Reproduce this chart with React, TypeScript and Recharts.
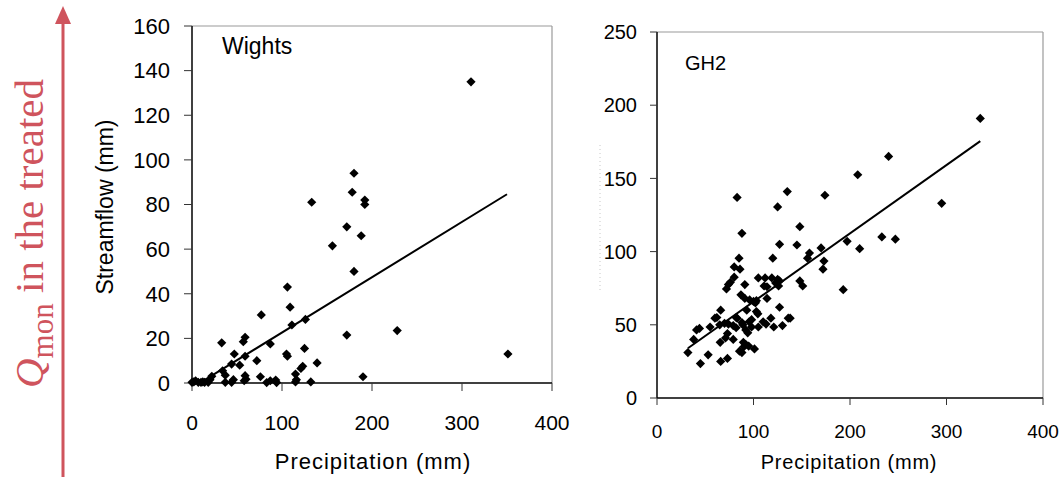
import React from 'react';
import { ScatterChart, Scatter, XAxis, YAxis, ReferenceLine } from 'recharts';

const FONT = '"Liberation Sans", Arial, Helvetica, sans-serif';
const RED = '#cf545d';

// Wights catchment: monthly precipitation (mm) vs streamflow (mm)
const wightsPrecip = [310, 180, 178, 192, 192, 133, 172, 188, 156, 180, 106, 109, 111, 126, 172, 228, 351, 105, 106, 125, 139, 123, 121, 115, 116, 115, 132, 190, 77, 33, 59, 57, 87, 47, 59, 44, 53, 72, 34, 37, 22, 59, 60, 58, 76, 83, 87, 93, 94, 0, 2, 4, 7, 10, 12, 14, 18, 20, 37, 44, 46];
const wightsFlow = [135, 94, 85.5, 82, 80, 81, 70, 66, 61.5, 50, 43, 34, 26, 28.5, 21.5, 23.5, 13, 13, 12, 15.5, 9, 7.5, 6.5, 4, 1.5, 0.5, 0.5, 2.8, 30.5, 18, 20.5, 18.5, 17.5, 13, 12, 8.5, 8, 10, 5.5, 3.5, 3, 3.3, 1.7, 1, 2.8, 0.2, 1, 1.3, 0.2, 0.3, 0.5, 1, 0.3, 0.3, 0.5, 0.3, 0.3, 1.5, 0.3, 0.3, 1.5];
const wightsFitX = [12, 350];
const wightsFitY = [0.8, 84.6];

// GH2 catchment
const gh2Precip = [335, 240, 208, 174, 295, 148, 145, 158, 156, 170, 173, 172, 197, 210, 233, 247, 193, 148, 151, 138, 83, 135, 125, 88, 127, 85, 120, 80, 86, 80, 105, 112, 119, 125, 127, 123, 114, 111, 126, 76, 74, 72, 91, 87, 91, 96, 100, 103, 102, 114, 93, 127, 66, 62, 60, 55, 41, 44, 38, 32, 45, 53, 66, 73, 65, 70, 74, 79, 82, 82, 83, 88, 89, 95.5, 98, 103, 104.5, 98, 105, 110, 113, 118, 121, 130, 136, 71, 79, 73, 65.5, 92, 94, 89.5, 92, 95, 90, 85.5, 88, 101];
const gh2Flow = [191, 165, 152.5, 138.5, 133, 117, 104.5, 99, 95.5, 102.5, 93.5, 88, 107, 102, 110, 108.5, 74, 80, 76.5, 54.5, 137, 141, 130.5, 112.5, 105, 95.5, 95.5, 89.5, 88, 82.5, 82, 82, 82, 81, 80, 78.5, 76, 76.5, 76.5, 79, 77.5, 74.5, 77.5, 70.5, 68, 67, 66, 66.5, 65, 68, 60, 62, 60, 55, 54.5, 48.5, 46.5, 47.5, 40, 31, 23.5, 29.5, 25, 27, 50, 51, 50.5, 49.5, 48, 55, 54.5, 51.5, 50, 52, 53.5, 59, 57.5, 48.5, 48.5, 52, 50.5, 54.5, 48.5, 49.5, 54.5, 41, 40, 44, 38, 46.5, 44.5, 38, 36.5, 35.5, 35, 32, 31, 33.5];
const gh2FitX = [32, 335];
const gh2FitY = [34, 175.5];

const xTicks = [0, 100, 200, 300, 400];
const wightsYTicks = [0, 20, 40, 60, 80, 100, 120, 140, 160];
const gh2YTicks = [0, 50, 100, 150, 200, 250];

const zip = (xs: number[], ys: number[]) => xs.map((x, i) => ({ x, y: ys[i] }));
const wightsData = zip(wightsPrecip, wightsFlow);
const wightsFit = zip(wightsFitX, wightsFitY);
const gh2Data = zip(gh2Precip, gh2Flow);
const gh2Fit = zip(gh2FitX, gh2FitY);

const Diamond = (props: any) => {
  const { cx, cy } = props;
  if (cx == null || cy == null) return <g />;
  const r = 4.6;
  return <path d={`M${cx},${cy - r}L${cx + r},${cy}L${cx},${cy + r}L${cx - r},${cy}Z`} fill="#000" />;
};
const NoShape = () => <g />;

export default function App() {
  return (
    <div style={{ position: 'absolute', left: 0, top: 0, width: 1064, height: 477, background: '#fff', overflow: 'hidden' }}>
      {/* Left chart: Wights */}
      <div style={{ position: 'absolute', left: 0, top: 0 }}>
        <ScatterChart width={582} height={477} margin={{ top: 26, right: 30, bottom: 24, left: 132 }}>
          <XAxis
            type="number"
            dataKey="x"
            domain={[0, 400]}
            ticks={xTicks}
            interval={0}
            height={70}
            tickSize={8}
            tickMargin={24}
            axisLine={{ stroke: '#000', strokeWidth: 1.5 }}
            tickLine={{ stroke: '#333' }}
            tick={{ fontSize: 21, fill: '#000', fontFamily: FONT }}
          />
          <YAxis
            type="number"
            dataKey="y"
            domain={[0, 160]}
            ticks={wightsYTicks}
            interval={0}
            width={60}
            tickSize={8}
            tickMargin={14}
            axisLine={{ stroke: '#000', strokeWidth: 1.5 }}
            tickLine={{ stroke: '#333' }}
            tick={{ fontSize: 22, fill: '#000', fontFamily: FONT }}
          />
          <ReferenceLine y={160} stroke="#9a9a9a" strokeWidth={1.2} />
          <ReferenceLine x={400} stroke="#9a9a9a" strokeWidth={1.2} />
          <Scatter data={wightsFit} line={{ stroke: '#000', strokeWidth: 2 }} shape={NoShape} isAnimationActive={false} />
          <Scatter data={wightsData} shape={Diamond} isAnimationActive={false} />
        </ScatterChart>
      </div>

      {/* Right chart: GH2 */}
      <div style={{ position: 'absolute', left: 580, top: 0 }}>
        <ScatterChart width={484} height={477} margin={{ top: 32, right: 21, bottom: 19, left: 17 }}>
          <XAxis
            type="number"
            dataKey="x"
            domain={[0, 400]}
            ticks={xTicks}
            interval={0}
            height={60}
            tickSize={7}
            tickMargin={20}
            axisLine={{ stroke: '#000', strokeWidth: 1.5 }}
            tickLine={{ stroke: '#333' }}
            tick={{ fontSize: 19, fill: '#000', fontFamily: FONT }}
          />
          <YAxis
            type="number"
            dataKey="y"
            domain={[0, 250]}
            ticks={gh2YTicks}
            interval={0}
            width={60}
            tickSize={7}
            tickMargin={13}
            axisLine={{ stroke: '#000', strokeWidth: 1.5 }}
            tickLine={{ stroke: '#333' }}
            tick={{ fontSize: 20, fill: '#000', fontFamily: FONT }}
          />
          <ReferenceLine y={250} stroke="#9a9a9a" strokeWidth={1.2} />
          <ReferenceLine x={400} stroke="#9a9a9a" strokeWidth={1.2} />
          <Scatter data={gh2Fit} line={{ stroke: '#000', strokeWidth: 2 }} shape={NoShape} isAnimationActive={false} />
          <Scatter data={gh2Data} shape={Diamond} isAnimationActive={false} />
        </ScatterChart>
      </div>

      {/* Overlay texts and annotation */}
      <svg width={1064} height={477} style={{ position: 'absolute', left: 0, top: 0, pointerEvents: 'none' }}>
        <line x1={63} y1={477} x2={63} y2={20} stroke={RED} strokeWidth={3} />
        <polygon points="63,6 55,24 71,24" fill={RED} />
        <text
          transform="translate(43,388) rotate(-90)"
          fill={RED}
          fontFamily='"Liberation Serif", "Times New Roman", serif'
          fontSize={41}
        >
          <tspan fontStyle="italic">Q</tspan>
          <tspan fontSize={31} dy={10}>mon</tspan>
          <tspan dy={-10}> in the treated</tspan>
        </text>

        <text x={222} y={54} fontFamily={FONT} fontSize={23} fill="#000">Wights</text>
        <text
          transform="translate(113,207) rotate(-90)"
          textAnchor="middle"
          fontFamily={FONT}
          fontSize={23}
          fill="#000"
        >
          Streamflow (mm)
        </text>
        <text x={373} y={469} textAnchor="middle" fontFamily={FONT} fontSize={22} fill="#000" letterSpacing={1}>
          Precipitation (mm)
        </text>

        <text x={685} y={70} fontFamily={FONT} fontSize={20} fill="#000">GH2</text>
        <text x={849} y={469} textAnchor="middle" fontFamily={FONT} fontSize={20} fill="#000" letterSpacing={0.8}>
          Precipitation (mm)
        </text>
        <line x1={600} y1={145} x2={600} y2={292} stroke="#c8c8c8" strokeWidth={1} strokeDasharray="1 3" />
      </svg>
    </div>
  );
}
